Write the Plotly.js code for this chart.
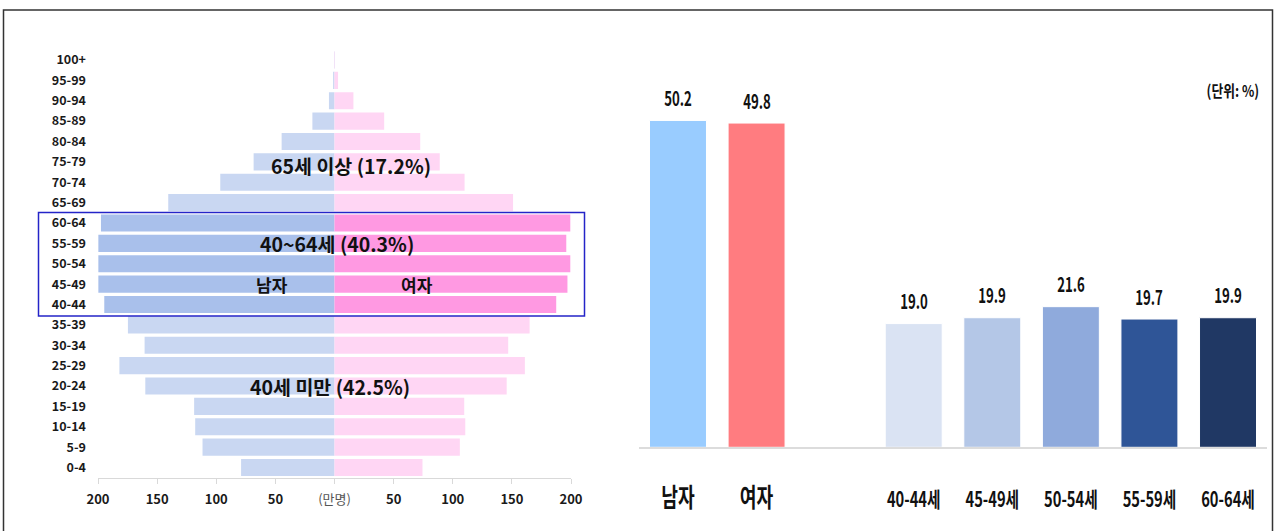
<!DOCTYPE html>
<html>
<head>
<meta charset="utf-8">
<script src="https://cdn.plot.ly/plotly-3.0.1.min.js"></script>
<style>html,body{margin:0;padding:0;background:#fff;}#chart{width:1274px;height:531px;}</style>
</head>
<body>
<div id="chart"></div>
<script>
// ---- data ----
const ageGroups = ['0-4','5-9','10-14','15-19','20-24','25-29','30-34','35-39','40-44','45-49','50-54','55-59','60-64','65-69','70-74','75-79','80-84','85-89','90-94','95-99','100+'];
const maleValues   = [79, 111.6, 117.8, 118.7, 160, 181.9, 160.6, 174.7, 194.7, 199.7, 199.7, 199.7, 197.5, 140.6, 96.6, 68.4, 44.7, 18.7, 4.7, 1.2, 0.4];
const femaleValues = [74.4, 106, 110.6, 109.7, 145.6, 161, 146.9, 165, 187.5, 197, 199.4, 196, 199.4, 151, 110, 89, 72.5, 42, 16, 3, 0.4];
const highlightedGroups = ['40-44','45-49','50-54','55-59','60-64'];
const pyramidTickVals = [-200,-150,-100,-50,0,50,100,150,200];
const pyramidTickText = ['200','150','100','50','(만명)','50','100','150','200'];

const shareCats   = ['남자','여자',' ','40-44세','45-49세','50-54세','55-59세','60-64세'];
const shareValues = [50.2, 49.8, null, 19.0, 19.9, 21.6, 19.7, 19.9];

const groupLabels = [
  {text:'65세 이상 (17.2%)', x:14, y:'75-79'},
  {text:'40~64세 (40.3%)', x:2.5, y:'55-59'},
  {text:'40세 미만 (42.5%)', x:-4, y:'20-24'}
];
const sexLabels = [
  {text:'남자', x:-53, y:'45-49'},
  {text:'여자', x:70, y:'45-49'}
];

// ---- styles ----
const maleLight = '#c9d7f2', maleDark = '#a9c0eb';
const femaleLight = '#ffd6f4', femaleDark = '#ff99e2';
const shareColors = ['#99ccff','#ff7c80','rgba(0,0,0,0)','#dae3f3','#b4c7e7','#8faadc','#2f5597','#203864'];
const KR = '"Noto Sans CJK KR", "Noto Sans", sans-serif';

const W = 1274, H = 531;
const px = v => v / W;
const py = v => (H - v) / H;

const traces = [
  {
    type:'bar', orientation:'h', xaxis:'x', yaxis:'y',
    y: ageGroups, x: maleValues.map(v => -v), width: 0.84,
    marker:{color: ageGroups.map(g => highlightedGroups.includes(g) ? maleDark : maleLight), line:{width:0}},
    hoverinfo:'skip'
  },
  {
    type:'bar', orientation:'h', xaxis:'x', yaxis:'y',
    y: ageGroups, x: femaleValues, width: 0.84,
    marker:{color: ageGroups.map(g => highlightedGroups.includes(g) ? femaleDark : femaleLight), line:{width:0}},
    hoverinfo:'skip'
  },
  {
    type:'bar', xaxis:'x2', yaxis:'y2',
    x: shareCats, y: shareValues, width: 0.725,
    marker:{color: shareColors, line:{color:'#ffffff', width:1}},
    hoverinfo:'skip'
  }
];

const annotations = [];
groupLabels.forEach(l => annotations.push({
  xref:'x', yref:'y', x:l.x, y:l.y, text:'<b>'+l.text+'</b>', showarrow:false,
  font:{family:KR, size:19.5, color:'#111'}, yshift: l.y==='75-79' ? -4 : 0
}));
sexLabels.forEach(l => annotations.push({
  xref:'x', yref:'y', x:l.x, y:l.y, text:l.text, showarrow:false,
  font:{family:KR, size:17, color:'#111', weight:600}
}));
const narrowStart = annotations.length;
shareCats.forEach((c,i) => {
  if (shareValues[i] === null) return;
  annotations.push({
    xref:'x2', yref:'y2', x:c, y:shareValues[i], text:'<b>'+shareValues[i].toFixed(1)+'</b>',
    showarrow:false, yanchor:'middle', yshift:23,
    font:{family:KR, size:20, color:'#111'}
  });
});
annotations.push({
  xref:'paper', yref:'paper', x:px(1268), y:py(90), xanchor:'right', yanchor:'middle',
  text:'<b>(단위: %)</b>', showarrow:false, font:{family:KR, size:16, color:'#111'}
});

const layout = {
  width: W, height: H, autosize:false,
  margin:{l:0,r:0,t:0,b:0},
  paper_bgcolor:'#fff', plot_bgcolor:'rgba(0,0,0,0)',
  showlegend:false, barmode:'overlay',
  font:{family:KR, color:'#111'},
  xaxis:{
    domain:[px(98), px(571)], range:[-200,200], anchor:'y',
    tickvals: pyramidTickVals,
    ticktext: pyramidTickText.map(t => t.startsWith('(') ? '<span style="color:#555">'+t+'</span>' : '<b>'+t+'</b>'),
    tickfont:{family:KR, size:13, color:'#1a1a1a'}, tickangle:0,
    showgrid:false, zeroline:false, showline:true, linecolor:'#d9d9d9', linewidth:1,
    ticks:'outside', ticklen:5, tickcolor:'#d9d9d9', ticklabelstandoff:5, fixedrange:true
  },
  yaxis:{
    domain:[py(477.7), py(49.8)], anchor:'x', type:'category',
    categoryarray: ageGroups, range:[-0.5, 20.5],
    tickvals: ageGroups, ticktext: ageGroups.map(g => '<b>'+g+'</b>'),
    tickfont:{family:KR, size:12.5, color:'#1a1a1a'},
    showgrid:false, zeroline:false, showline:false, ticks:'', ticklabelstandoff:11, fixedrange:true
  },
  xaxis2:{
    domain:[px(638.7), px(1267.3)], anchor:'y2', type:'category',
    categoryarray: shareCats, range:[-0.5, 7.5],
    tickvals: shareCats, tickangle:0,
    ticktext: shareCats.map(c => c.trim()==='' ? '' : (c.length===2 ? '<b><span style="font-size:26px">'+c+'</span></b>' : '<b>'+c+'</b>')),
    tickfont:{family:KR, size:21, color:'#111'},
    showgrid:false, zeroline:false, showline:true, linecolor:'#dcdcdc', linewidth:2,
    ticks:'', ticklabelstandoff:33, fixedrange:true
  },
  yaxis2:{
    domain:[py(447.3), py(89.2)], anchor:'x2', range:[0,55], visible:false, fixedrange:true
  },
  shapes:[
    {type:'rect', xref:'paper', yref:'paper', x0:px(3.5), x1:px(1272.5), y0:py(540), y1:py(10),
     line:{color:'#333', width:1.5}, fillcolor:'rgba(0,0,0,0)'},
    {type:'rect', xref:'paper', yref:'paper', x0:px(38.5), x1:px(584.5), y0:py(316), y1:py(212.5),
     line:{color:'#2424c8', width:1.5}, fillcolor:'rgba(0,0,0,0)'}
  ],
  annotations: annotations
};

// narrow the right-hand texts (reference uses a condensed face)
function condense(el, s) {
  const b = el.getBBox();
  const cx = b.x + b.width / 2, cy = b.y + b.height / 2;
  const prev = el.getAttribute('transform') || '';
  el.setAttribute('transform', prev + ' translate(' + cx + ',' + cy + ') scale(' + s + ',1) translate(' + (-cx) + ',' + (-cy) + ')');
}

Plotly.newPlot('chart', traces, layout, {staticPlot:true, displayModeBar:false}).then(gd => {
  gd.querySelectorAll('.x2tick text').forEach(t => condense(t, 0.7));
  for (let i = narrowStart; i < annotations.length; i++) {
    const g = gd.querySelector('.annotation[data-index="' + i + '"] text.annotation-text');
    if (g) condense(g, i === annotations.length - 1 ? 0.8 : 0.66);
  }
});
</script>
</body>
</html>
